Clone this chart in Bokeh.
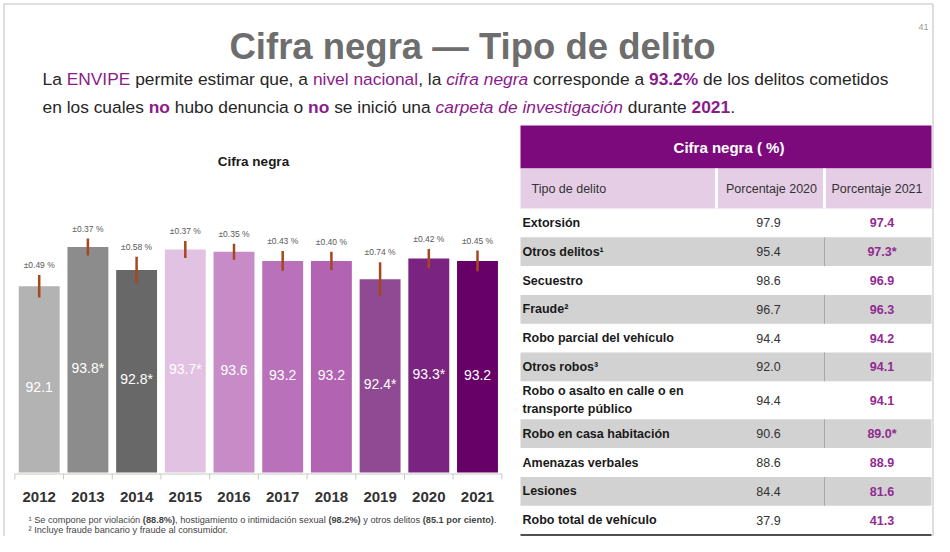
import unicodedata
from bokeh.plotting import figure
from bokeh.models import Range1d
from bokeh.core.properties import value
from bokeh.embed import file_html
from bokeh.resources import INLINE

# ---------------- data ----------------
years = [2012, 2013, 2014, 2015, 2016, 2017, 2018, 2019, 2020, 2021]
cifra_negra = [92.1, 93.8, 92.8, 93.7, 93.6, 93.2, 93.2, 92.4, 93.3, 93.2]
margen_error = [0.49, 0.37, 0.58, 0.37, 0.35, 0.43, 0.40, 0.74, 0.42, 0.45]
significativo = [False, True, True, True, False, False, False, True, True, False]
bar_colors = ["#b3b3b3", "#8c8c8c", "#686868", "#e2c2e2", "#c78bc7",
              "#b972b9", "#b264b2", "#904a93", "#7b2381", "#670067"]

delitos = ["Extorsión", "Otros delitos¹", "Secuestro", "Fraude²",
           "Robo parcial del vehículo", "Otros robos³",
           "Robo o asalto en calle o en\ntransporte público",
           "Robo en casa habitación", "Amenazas verbales", "Lesiones",
           "Robo total de vehículo"]
pct_2020 = [97.9, 95.4, 98.6, 96.7, 94.4, 92.0, 94.4, 90.6, 88.6, 84.4, 37.9]
pct_2021 = [97.4, 97.3, 96.9, 96.3, 94.2, 94.1, 94.1, 89.0, 88.9, 81.6, 41.3]
sig_2021 = [False, True, False, False, False, False, False, True, False, False, False]

# ---------------- text metrics (Arial / Liberation Sans) ----------------
REG = dict(zip("abcdefghijklmnopqrstuvwxyz",
               [556, 556, 500, 556, 556, 278, 556, 556, 222, 222, 500, 222, 833,
                556, 556, 556, 556, 333, 500, 278, 556, 500, 722, 500, 500, 500]))
REG.update(zip("ABCDEFGHIJKLMNOPQRSTUVWXYZ",
               [667, 667, 722, 722, 667, 611, 778, 722, 278, 500, 667, 556, 833,
                722, 778, 667, 778, 722, 667, 611, 722, 667, 944, 667, 667, 611]))
BOLD = dict(zip("abcdefghijklmnopqrstuvwxyz",
                [556, 611, 556, 611, 556, 333, 611, 611, 278, 278, 556, 278, 889,
                 611, 611, 611, 611, 389, 556, 333, 611, 556, 778, 556, 556, 500]))
BOLD.update(zip("ABCDEFGHIJKLMNOPQRSTUVWXYZ",
                [722, 722, 722, 722, 667, 611, 778, 722, 278, 556, 722, 611, 833,
                 722, 778, 667, 778, 722, 667, 611, 722, 667, 944, 667, 667, 611]))
for tab in (REG, BOLD):
    tab.update({" ": 278, ".": 278, ",": 278, "%": 889, "(": 333, ")": 333,
                "*": 389, "±": 584, "—": 1000, "¹": 333, "²": 333, "³": 333})
    for d in "0123456789":
        tab[d] = 556


def tw(s, bold=False):
    tab = BOLD if bold else REG
    tot = 0
    for ch in s:
        base = unicodedata.normalize("NFD", ch)[0]
        tot += tab.get(ch, tab.get(base, 556))
    return tot / 1000.0


FONT = "Liberation Sans"
DARK = "#262626"
PURPLE = "#8a1c8a"
VPURPLE = "#912a91"

# ---------------- figure (data coords = slide pixel coords) ----------------
W, H = 934, 536
X0, X1 = 0, W
Y0, Y1 = 0, H
p = figure(width=W, height=H, x_range=Range1d(X0, X1), y_range=Range1d(Y1, Y0),
           output_backend="svg", toolbar_location=None, min_border=0,
           x_axis_location=None, y_axis_location=None)
p.grid.visible = False
p.outline_line_color = None
p.background_fill_color = "white"
p.border_fill_color = "white"


def put(x, y, text, size, color=DARK, style="normal", align="left",
        baseline="alphabetic", font=FONT, **kw):
    p.text(x=[x], y=[y], text=[text], text_font=value(font),
           text_font_size=f"{size:.2f}px", text_color=color,
           text_font_style=style, text_align=align, text_baseline=baseline, **kw)


def runs(parts, x, y, fs, baseline="alphabetic"):
    cx = x
    for text, style, color in parts:
        bold = style == "bold"
        lead = len(text) - len(text.lstrip(" "))
        core = text.strip(" ")
        if core:
            put(cx + tw(" " * lead, bold) * fs, y, core, fs, color, style,
                baseline=baseline)
        cx += tw(text, bold) * fs


def run_width(parts):
    return sum(tw(t, s == "bold") for t, s, c in parts)


# slide frame
p.segment(x0=[3.5, 3.5, 932.5], y0=[3.5, 3.5, 3.5], x1=[3.5, 932.5, 932.5],
          y1=[H, 3.5, H], line_color="#bdbdbd", line_width=1)

# ---------------- header ----------------
put(472, 46, "Cifra negra — Tipo de delito", 36.5, "#6e6e6e", "bold",
    align="center")
put(928, 26, "41", 9, "#9a9a9a", align="right", baseline="middle")

line1 = [("La ", "normal", DARK), ("ENVIPE", "normal", PURPLE),
         (" permite estimar que, a ", "normal", DARK),
         ("nivel nacional", "normal", PURPLE), (", la ", "normal", DARK),
         ("cifra negra", "italic", PURPLE), (" corresponde a ", "normal", DARK),
         ("93.2%", "bold", PURPLE), (" de los delitos cometidos", "normal", DARK)]
line2 = [("en los cuales ", "normal", DARK), ("no", "bold", PURPLE),
         (" hubo denuncia o ", "normal", DARK), ("no", "bold", PURPLE),
         (" se inició una ", "normal", DARK),
         ("carpeta de investigación", "italic", PURPLE),
         (" durante ", "normal", DARK), ("2021", "bold", PURPLE),
         (".", "normal", DARK)]
fs_sub = 846.0 / run_width(line1)
runs(line1, 42, 78, fs_sub)
runs(line2, 42, 106, fs_sub)

# ---------------- bar chart ----------------
BASE, BASE_Y, PPU = 84.0, 472.0, 23.0
YEAR0_X, PPY = 38.7, 48.7
p.extra_y_ranges = {"pct": Range1d(BASE - (Y1 - BASE_Y) / PPU,
                                   BASE + (BASE_Y - Y0) / PPU)}
p.extra_x_ranges = {"yr": Range1d(years[0] - (YEAR0_X - X0) / PPY,
                                  years[0] + (X1 - YEAR0_X) / PPY)}
R = dict(x_range_name="yr", y_range_name="pct")

put(253, 161, "Cifra negra", 13.5, "#1a1a1a", "bold", align="center",
    baseline="middle")

p.vbar(x=years, top=cifra_negra, bottom=BASE, width=0.84,
       fill_color=bar_colors, line_color=None, **R)

lo = [v - m for v, m in zip(cifra_negra, margen_error)]
hi = [v + m for v, m in zip(cifra_negra, margen_error)]
p.segment(x0=years, y0=lo, x1=years, y1=hi, line_color="#a3481f",
          line_width=2.5, **R)
p.text(x=years, y=hi, text=[f"±{m:.2f} %" for m in margen_error],
       text_font=value(FONT), text_font_size="8.5px", text_color="#595959",
       text_align="center", text_baseline="bottom", y_offset=-5, **R)

mid = [(v + BASE) / 2 for v in cifra_negra]
p.text(x=years, y=mid,
       text=[f"{v:.1f}" + ("*" if s else "") for v, s in zip(cifra_negra, significativo)],
       text_font=value(FONT), text_font_size="14px", text_color="white",
       text_align="center", text_baseline="middle", y_offset=8, **R)

# axis line and ticks
bounds = [y - 0.5 for y in years] + [years[-1] + 0.5]
p.segment(x0=[bounds[0]], y0=[473.5], x1=[bounds[-1]], y1=[473.5],
          line_color="#c4cbbf", line_width=1.2, x_range_name="yr")
p.segment(x0=bounds, y0=[473.5] * len(bounds), x1=bounds,
          y1=[479] * len(bounds), line_color="#c4cbbf", line_width=1,
          x_range_name="yr")
p.text(x=years, y=[496] * len(years), text=[str(y) for y in years],
       text_font=value(FONT), text_font_size="15px", text_font_style="bold",
       text_color="#333333", text_align="center", text_baseline="middle",
       x_range_name="yr")

# footnotes
FN = "#454545"
fn1 = [("¹ Se compone por violación ", "normal", FN), ("(88.8%)", "bold", FN),
       (", hostigamiento o intimidación sexual ", "normal", FN),
       ("(98.2%)", "bold", FN), (" y otros delitos ", "normal", FN),
       ("(85.1 por ciento)", "bold", FN), (".", "normal", FN)]
fn2 = [("² Incluye fraude bancario y fraude al consumidor.", "normal", FN)]
fs_fn = 468.0 / run_width(fn1)
runs(fn1, 28, 519.5, fs_fn, baseline="middle")
runs(fn2, 28, 529.5, fs_fn, baseline="middle")

# ---------------- table ----------------
TL, TR = 520, 931
C1, C2 = 716, 824
HEAD_TOP, HEAD_BOT, SUB_BOT = 125, 168, 208
row_h = [38 if "\n" in d else 28.8 for d in delitos]
tops = []
acc = SUB_BOT
for h in row_h:
    tops.append(acc)
    acc += h
bots = [t + h for t, h in zip(tops, row_h)]
centers = [(t + b) / 2 for t, b in zip(tops, bots)]

p.quad(left=[TL], right=[TR], top=[HEAD_TOP], bottom=[HEAD_BOT],
       fill_color="#7d0a7d", line_color=None)
p.quad(left=[TL], right=[TR], top=[HEAD_BOT], bottom=[SUB_BOT],
       fill_color="#e6cde6", line_color=None)
p.segment(x0=[C1, C2], y0=[HEAD_BOT] * 2, x1=[C1, C2], y1=[SUB_BOT] * 2,
          line_color="white", line_width=3)

gray = [i for i in range(len(delitos)) if i % 2 == 1]
p.quad(left=[TL] * len(gray), right=[TR] * len(gray),
       top=[tops[i] for i in gray], bottom=[bots[i] for i in gray],
       fill_color="#d2d2d2", line_color=None)
p.segment(x0=[C2] * len(gray), y0=[tops[i] for i in gray],
          x1=[C2] * len(gray), y1=[bots[i] for i in gray],
          line_color="#a8a8a8", line_width=1)
p.segment(x0=[TL], y0=[bots[-1] + 0.5], x1=[TR], y1=[bots[-1] + 0.5],
          line_color="#505050", line_width=2)

put((TL + TR) / 2 + 3, (HEAD_TOP + HEAD_BOT) / 2, "Cifra negra ( %)", 15,
    "white", "bold", align="center", baseline="middle")
sub_c = (HEAD_BOT + SUB_BOT) / 2
put(531, sub_c, "Tipo de delito", 12.5, "#333333", baseline="middle")
put((C1 + C2) / 2 + 1, sub_c, "Porcentaje 2020", 12.5, "#333333",
    align="center", baseline="middle")
put((C2 + TR) / 2 - 1, sub_c, "Porcentaje 2021", 12.5, "#333333",
    align="center", baseline="middle")

lab_x, lab_y, lab_t = [], [], []
for d, c in zip(delitos, centers):
    lines = d.split("\n")
    n = len(lines)
    for k, ln in enumerate(lines):
        lab_x.append(522)
        lab_y.append(c + (k - (n - 1) / 2) * 18)
        lab_t.append(ln)
p.text(x=lab_x, y=lab_y, text=lab_t, text_font=value(FONT),
       text_font_size="12.5px", text_font_style="bold", text_color="#1a1a1a",
       text_align="left", text_baseline="middle")
p.text(x=[(C1 + C2) / 2 - 2] * len(pct_2020), y=centers,
       text=[f"{v:.1f}" for v in pct_2020], text_font=value(FONT),
       text_font_size="12.5px", text_color="#333333", text_align="center",
       text_baseline="middle")
p.text(x=[(C2 + TR) / 2 + 4] * len(pct_2021), y=centers,
       text=[f"{v:.1f}" + ("*" if s else "") for v, s in zip(pct_2021, sig_2021)],
       text_font=value(FONT), text_font_size="12.5px", text_font_style="bold",
       text_color=VPURPLE, text_align="center", text_baseline="middle")

open("out.html", "w").write(file_html(p, INLINE))
